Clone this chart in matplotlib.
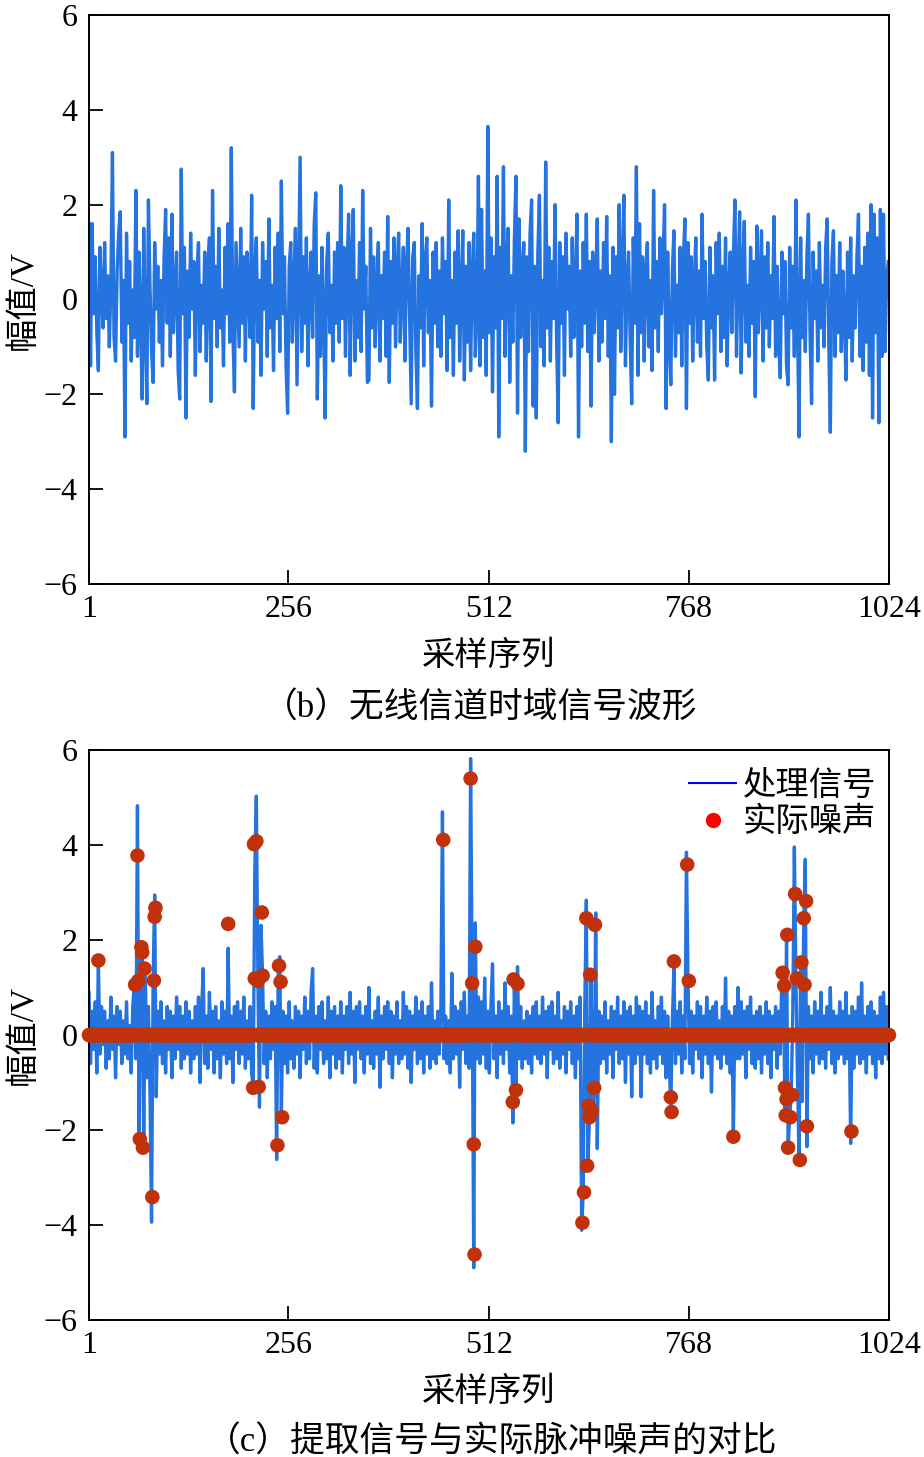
import numpy as np
import matplotlib
matplotlib.use('Agg')
import matplotlib.pyplot as plt
from matplotlib.lines import Line2D

plt.rcParams['font.family'] = ['Liberation Serif', 'Noto Sans CJK SC']
plt.rcParams['axes.unicode_minus'] = True

# 采样序号 (每隔一个采样点读一次)
idx = np.arange(1, 1024, 2)

# (b) 无线信道时域信号
sig_b = [
    1.6, -1.4, 1.6, -0.3, 0.9, -0.7, -1.5, 1.1, 0.2, -0.6, 1.2, -0.4, 0.5, -1.0, 0.3, 3.1,
    -0.8, -1.3, 0.6, 1.4, 1.85, -0.9, 0.4, -2.9, 1.4, -0.5, 0.8, -1.3, 0.2, -0.8, 2.3, -1.2,
    1.0, -0.4, -2.1, 1.5, -0.6, -2.2, 2.1, 0.3, -1.1, -1.75, 1.2, -0.2, 0.7, -0.9, 0.4, -1.4,
    0.9, 1.9, -0.5, 1.3, -1.2, 1.8, -0.7, 0.2, 1.0, -1.5, -2.1, 2.75, -0.3, 1.1, -2.5, 0.6,
    -0.8, 1.4, -0.2, 0.8, -1.6, 0.5, 1.2, -1.1, 0.3, -0.5, 1.0, -1.3, 0.6, 1.3, -2.15, 2.3,
    -0.4, 0.7, -1.0, 1.5, -0.6, 0.2, -1.4, 1.1, -0.3, 1.6, -0.9, 3.2, -0.7, -1.95, 1.2, 0.1,
    -1.0, 1.5, -0.5, 0.9, -1.3, 1.0, 0.2, -0.8, 2.2, -2.3, 0.6, 1.3, -0.9, 0.4, -1.6, 1.2,
    -0.2, 0.8, -1.2, 1.7, -0.6, 0.3, -1.5, 1.1, -0.4, 1.4, -1.1, 2.5, -0.3, 0.9, -1.4, -2.4,
    0.7, 1.2, -0.9, 0.4, 1.5, -1.8, 0.6, 3.0, -1.1, 0.9, -0.5, 1.3, -1.4, 0.2, 1.0, -0.8,
    1.6, 2.25, -2.1, 0.5, -1.2, 1.1, -0.3, -2.5, 0.8, 1.4, -0.7, 0.3, -1.3, 1.0, -0.5, 1.2,
    -0.9, 2.4, -0.4, 1.1, -1.2, 0.6, 1.8, -1.6, 0.9, 1.9, -1.3, 0.4, -0.8, 1.2, -1.1, 2.3,
    -0.2, 0.7, -1.75, -1.7, 1.5, -0.6, 0.9, -1.0, 0.3, 1.2, -1.3, 0.5, -0.4, 1.0, -1.2, 1.75,
    -1.75, 0.8, -0.5, 1.3, -1.0, 0.6, 1.4, -0.9, 0.2, 1.1, -1.3, 0.7, 1.5, -0.4, -2.2, 0.9,
    1.2, -1.1, -2.3, 0.5, -0.6, 1.6, -1.4, 0.8, 1.3, -0.7, 0.4, -2.25, 1.0, -0.5, 1.2, -1.0,
    0.6, -1.2, 1.3, -0.3, 0.8, -1.5, 2.1, -0.8, 0.4, -1.6, 1.0, -0.5, 1.45, -1.3, 0.2, 1.45,
    -1.7, 0.7, -0.9, 1.2, -1.5, 0.5, 1.4, -1.2, -0.4, 2.6, -1.4, 1.9, -0.8, 0.6, -1.6, 3.65,
    -0.7, 1.3, -1.95, 0.9, -0.6, 2.6, -2.9, 1.1, -0.4, 2.8, -1.2, 0.8, 1.5, -1.75, 0.5, -0.9,
    1.3, 2.6, -2.4, 1.7, -0.8, 0.6, 1.2, -3.2, 0.9, -1.1, 1.4, 2.1, -2.25, 0.7, -2.5, 1.0,
    2.2, -1.0, 0.4, -1.4, 2.9, -0.6, 1.1, -1.3, 0.8, -0.4, 2.0, -0.9, -2.6, 1.2, -0.5, 0.9,
    -1.6, 1.4, -0.2, 0.7, -1.2, 1.3, -0.8, 0.3, 1.8, -2.9, 0.6, -1.0, 1.2, -0.5, 1.8, -1.1,
    0.8, -2.25, 1.0, -0.7, 0.4, 1.7, -1.3, 0.6, -0.9, 1.2, -0.4, 1.75, -1.2, 0.5, -3.0, 1.1,
    -2.0, 0.9, -0.6, 2.0, -1.1, 0.7, 2.2, -1.4, 0.3, 1.0, -0.8, -2.2, 1.3, -0.5, 2.8, -1.6,
    1.6, -0.7, 0.9, -1.3, 0.5, 1.2, -1.0, 0.4, -1.5, 2.3, -0.6, 0.8, -1.1, 1.3, -0.3, 0.7,
    2.0, -2.3, 1.0, -0.8, -1.8, 0.6, 1.45, -1.2, 0.3, -0.7, 1.1, -1.4, 0.8, 1.7, -2.3, 1.2,
    -0.5, 0.9, -1.3, 0.4, 1.3, -0.9, 0.6, -1.2, 1.8, -0.4, 0.8, -1.0, -1.7, 1.1, -0.6, 0.5,
    -1.7, 1.2, -0.3, 1.4, -1.1, 0.7, -0.8, 1.3, -1.4, 0.2, 1.0, -0.7, 0.9, 2.1, -1.2, 0.5,
    1.85, -1.55, 0.6, 1.65, -0.9, 0.3, -1.2, 1.1, -0.5, 0.8, -2.05, 1.55, -0.7, 0.4, 1.45, -1.3,
    0.9, -0.6, 1.2, -1.0, 0.5, -0.4, 1.75, -1.2, 0.7, -0.9, -1.65, 1.0, -0.3, 0.8, -1.4, -1.8,
    1.1, -0.6, 0.7, -1.2, 2.1, -0.5, -2.9, 1.3, -0.8, 0.4, -1.1, 0.9, 1.8, -0.7, -2.2, 1.0,
    -0.4, 0.6, -1.3, 1.2, -0.6, 0.3, -1.0, 1.1, 1.7, -0.9, -2.8, 0.8, 1.45, -1.2, 0.5, -0.7,
    1.2, -1.1, 0.6, -0.4, -1.7, 1.0, -0.8, 1.3, -1.3, 0.5, -0.6, 0.9, 1.8, -1.2, 0.7, -1.5,
    1.1, -0.9, 1.4, -1.6, 2.0, -2.5, 1.8, -0.7, 1.3, -2.6, 1.9, -1.2, 1.8, -1.1, 0.4, 0.8,
]

# (c) 处理信号
sig_c = [
    0.9, -0.6, 0.5, -0.3, 0.7, -0.8, 1.6, -0.4, 0.6, -0.2, 0.5, -0.7, 0.3, -0.5, 0.8, -0.3,
    0.4, -0.9, 0.6, -0.2, 0.5, -0.6, 0.3, -0.4, 0.7, -0.5, 0.2, -0.8, 0.6, 1.06, -0.5, 4.83,
    -2.2, 1.2, 1.9, -2.4, 1.4, -0.9, 0.6, -1.2, -3.94, 1.15, 2.95, -1.3, 0.5, -0.4, 0.7, -0.6,
    0.3, -0.8, 0.6, -0.3, 0.5, -0.9, 0.4, -0.5, 0.8, -0.3, 0.6, -0.7, 0.4, -0.5, 0.7, -0.4,
    0.5, -0.8, 0.3, -0.5, 0.6, -0.4, 0.8, -1.0, 0.5, 1.4, -0.6, 0.4, -0.7, 0.9, -0.3, 0.5,
    -0.8, 0.6, -0.5, 0.3, -0.9, 0.7, -0.4, 0.5, -0.6, 1.83, -0.5, 0.4, -1.0, 0.6, -0.3, 0.7,
    -0.6, 0.5, -0.4, 0.8, -0.7, 0.3, -0.5, 0.6, -0.8, -1.11, 3.42, 5.03, 1.14, -1.52, 2.31, 1.25,
    -0.6, 0.5, -0.9, 0.4, -0.5, 0.7, -0.3, 0.6, -2.62, 1.46, 1.65, -1.73, 0.5, -0.6, 0.4, -0.8,
    0.7, -0.5, 0.3, -0.7, 0.6, -0.4, 0.5, -0.9, 0.4, -0.3, 0.8, -0.6, 0.5, -0.5, 0.9, 1.4,
    -0.7, 0.4, -0.8, 0.6, -0.3, 0.7, -0.6, 0.3, -0.5, 0.8, -0.9, 0.5, -0.4, 0.6, -0.7, 0.4,
    -0.5, 0.7, -0.8, 0.4, -0.3, 0.6, -0.6, 0.9, -0.4, 0.5, -1.0, 0.6, -0.3, 0.7, -0.5, 0.4,
    -0.8, 0.6, -0.4, 1.0, -0.6, 0.3, -0.7, 0.5, -0.4, 0.8, -1.1, 0.4, -0.5, 0.6, -0.3, 0.7,
    -0.6, 0.5, -0.9, 0.4, -0.4, 0.7, -0.6, 0.3, -0.5, 0.9, -0.4, 0.6, -0.7, 0.5, -1.0, 0.4,
    -0.3, 0.8, -0.6, 0.5, -0.5, 0.7, -0.8, 0.4, -0.4, 0.6, -0.7, 1.1, -0.5, 0.3, -0.6, 0.5,
    -0.4, 0.6, 4.70, -0.5, 0.4, -0.6, 0.3, -0.8, 1.3, -0.5, 0.6, -0.4, 0.5, -1.1, 0.7, -0.3,
    0.9, -0.6, 0.4, -0.7, 5.82, 1.09, -4.90, 2.36, -0.5, 0.8, -0.6, 0.7, -0.4, 1.2, -0.7, 0.5,
    -0.8, 0.6, 1.5, -0.5, 0.4, -0.9, 0.7, -0.4, 0.5, -0.6, 1.1, -0.3, 0.6, -0.8, 0.4, -1.85,
    1.17, -1.16, 1.44, -0.5, 0.6, -0.7, 0.3, -0.5, 0.5, -0.6, 0.4, -0.8, 0.6, -0.4, 0.7, -0.5,
    0.4, -0.6, 0.8, -0.4, 0.5, -0.9, 0.6, -0.3, 0.7, -0.6, 0.4, -0.5, 0.9, -0.7, 0.3, -0.4,
    0.6, -0.8, 0.5, -0.3, 0.7, -0.6, 0.4, -0.9, 0.6, -0.5, 0.8, -4.11, -3.31, 0.6, 2.84, -2.75,
    -1.73, 1.27, -1.60, -1.11, 2.57, -2.39, 0.5, -0.6, 0.4, -0.5, 0.7, -0.8, 0.3, -0.4, 0.6, -0.9,
    0.5, -0.3, 0.8, -0.6, 0.4, -0.5, 0.7, -1.0, 0.5, -0.4, 0.6, -1.3, 0.4, -0.6, 0.8, -0.4,
    0.6, -1.3, 0.5, -0.4, 0.7, -0.6, 0.4, -0.8, 0.9, -0.5, 0.3, -0.7, 0.6, -0.4, 0.8, -0.6,
    0.5, -0.9, 0.4, -0.5, -1.62, 0.3, 1.42, -0.6, 0.5, -0.4, 0.7, -0.8, 0.4, -0.5, 3.85, 1.14,
    -0.6, 0.5, -0.8, 0.4, -0.3, 0.7, -0.5, 0.6, -0.9, 0.4, -0.4, 0.8, -0.6, 0.5, -1.2, 0.6,
    -0.4, 0.7, -0.5, 0.3, -0.7, 0.6, -0.4, 1.2, -0.6, 0.5, -0.8, 0.4, -2.14, 0.6, -0.5, 1.0,
    -0.5, 0.7, -0.4, 0.5, -0.9, 0.6, -0.3, 0.8, -0.6, 0.4, -0.7, 0.5, -0.5, 0.6, -0.8, 0.4,
    -0.4, 0.7, -0.6, 0.5, -0.9, 0.4, -0.3, 0.6, -0.7, 0.5, -0.4, 1.31, 1.04, -1.69, 2.11, -2.37,
    -1.73, -1.26, 0.5, 3.96, 1.19, -0.9, -2.63, 1.53, -1.4, 2.46, 3.70, -2.35, 0.6, -0.5, 0.4, -0.8,
    0.7, -0.4, 0.5, -0.6, 0.9, -0.5, 0.4, -0.7, 0.6, -0.3, 1.0, -0.6, 0.5, -0.8, 0.4, -0.5,
    0.7, -0.4, 0.5, -0.6, 0.9, -0.5, 0.4, -2.28, 0.6, -0.7, 0.5, -0.4, 0.8, -0.6, 1.1, -0.5,
    0.4, -0.8, 0.6, -0.4, 0.7, -0.6, 0.5, -0.9, 0.4, -0.5, 0.8, -0.6, 0.9, -0.4, 0.6, -0.5,
]

# 实际脉冲噪声 (非零点)
noise_idx = [13, 60, 63, 64, 66, 68, 69, 70, 72, 82, 84, 85, 86, 179,
             211, 212, 213, 215, 217, 218, 222, 223, 242, 244, 246, 248,
             454, 489, 491, 493, 494, 495, 543, 544, 547, 549,
             632, 634, 637, 638, 640, 641, 642, 644, 647, 648,
             745, 746, 749, 766, 768, 825,
             888, 890, 891, 892, 893, 894, 895, 898, 900, 904, 906, 910,
             912, 915, 916, 918, 919, 976]
noise_val = [1.57, 1.06, 3.78, 1.14, -2.19, 1.85, 1.74, -2.37, 1.40, -3.41, 1.15, 2.49, 2.68, 2.34,
             -1.11, 4.02, 1.19, 4.08, 1.14, -1.09, 2.58, 1.25, -2.32, 1.46, 1.12, -1.73,
             4.11, 5.40, 1.09, -2.30, -4.62, 1.86, -1.41, 1.17, -1.16, 1.08,
             -3.95, -3.31, 2.46, -2.75, -1.49, -1.73, 1.27, -1.60, -1.11, 2.32,
             -1.31, -1.62, 1.55, 3.59, 1.14, -2.14,
             1.31, 1.04, -1.11, -1.69, -1.35, 2.11, -2.37, -1.73, -1.26, 2.97, 1.19, -2.63,
             1.53, 2.46, 1.06, 2.82, -1.92, -2.03]

xticks = [1, 256, 512, 768, 1024]
yticks = [-6, -4, -2, 0, 2, 4, 6]

n_all = np.arange(1, 1025)
noise_all = np.zeros(1024)
noise_all[np.array(noise_idx) - 1] = noise_val

blue = '#2473DE'
red = '#C2320A'
cjk = ['Liberation Serif', 'Noto Sans CJK SC']

fig = plt.figure(figsize=(9.24, 14.57), dpi=100)
ax1 = fig.add_axes([0.0963, 0.5992, 0.8658, 0.3905])
ax2 = fig.add_axes([0.0963, 0.0940, 0.8658, 0.3912])

ax1.plot(idx, sig_b, color=blue, lw=2.4)
ax2.plot(idx, sig_c, color=blue, lw=2.4, zorder=2)
ax2.scatter(n_all, noise_all, s=110, color=red, edgecolors='none', zorder=3, clip_on=False)

for ax in (ax1, ax2):
    ax.set_xlim(1, 1024)
    ax.set_ylim(-6, 6)
    ax.set_xticks(xticks)
    ax.set_yticks(yticks)
    ax.tick_params(direction='in', length=10, width=1.3, labelsize=23, pad=8,
                   top=False, right=False)
    for s in ax.spines.values():
        s.set_linewidth(1.4)
    ax.set_xlabel('采样序列', fontsize=24, family=cjk, labelpad=12)
    ax.set_ylabel('幅值/V', fontsize=24, family=cjk, labelpad=4)

handles = [Line2D([0], [0], color='blue', lw=1.5),
           Line2D([0], [0], marker='o', color='red', ls='none', markersize=10)]
ax2.legend(handles, ['处理信号', '实际噪声'], loc='upper right', bbox_to_anchor=(1.013, 1.01),
           frameon=False, prop={'family': 'Noto Sans CJK SC', 'size': 24},
           handlelength=1.4, handletextpad=0.2, labelspacing=0.05, borderaxespad=0.3)

fig.text(0.52, 0.5135, '（b）无线信道时域信号波形', fontsize=25, family=cjk,
         ha='center', va='center')
fig.text(0.532, 0.0095, '（c）提取信号与实际脉冲噪声的对比', fontsize=25, family=cjk,
         ha='center', va='center')

fig.savefig('out.png', dpi=100)
